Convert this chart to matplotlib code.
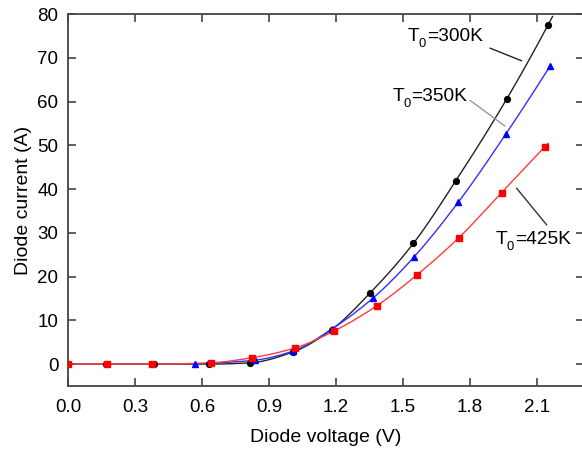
import numpy as np
import matplotlib
matplotlib.use("Agg")
import matplotlib.pyplot as plt
from matplotlib.transforms import offset_copy

plt.rcParams['font.family'] = ['Liberation Sans', 'DejaVu Sans']

# Data
v_300 = [0.0, 0.17, 0.385, 0.633, 0.815, 1.009, 1.181, 1.352, 1.547, 1.737, 1.964, 2.151]
i_300 = [0.0, 0.0, 0.0, 0.0, 0.3, 2.8, 7.9, 16.2, 27.6, 41.9, 60.5, 77.6]

v_350 = [0.569, 0.837, 1.009, 1.181, 1.364, 1.55, 1.748, 1.96, 2.16]
i_350 = [0.0, 0.9, 3.0, 8.0, 15.0, 24.5, 37.0, 52.5, 68.2]

v_425 = [0.0, 0.173, 0.375, 0.639, 0.823, 1.017, 1.193, 1.382, 1.561, 1.751, 1.942, 2.136]
i_425 = [0.0, 0.0, 0.0, 0.3, 1.45, 3.7, 7.6, 13.3, 20.3, 28.9, 39.2, 49.7]

x_ticks = [0.0, 0.3, 0.6, 0.9, 1.2, 1.5, 1.8, 2.1]
y_ticks = [0, 10, 20, 30, 40, 50, 60, 70, 80]


def pchip(x, y, xn):
    x = np.asarray(x, float); y = np.asarray(y, float)
    h = np.diff(x); d = np.diff(y) / h
    m = np.zeros_like(y)
    for k in range(1, len(x) - 1):
        if d[k - 1] * d[k] > 0:
            w1 = 2 * h[k] + h[k - 1]; w2 = h[k] + 2 * h[k - 1]
            m[k] = (w1 + w2) / (w1 / d[k - 1] + w2 / d[k])
    m[0] = d[0]; m[-1] = d[-1] + (d[-1] - d[-2]) * 0.5
    out = np.empty_like(xn)
    for j, xv in enumerate(xn):
        if xv >= x[-1]:
            out[j] = y[-1] + m[-1] * (xv - x[-1]); continue
        k = min(max(np.searchsorted(x, xv) - 1, 0), len(x) - 2)
        t = (xv - x[k]) / h[k]
        h00 = 2 * t**3 - 3 * t**2 + 1; h10 = t**3 - 2 * t**2 + t
        h01 = -2 * t**3 + 3 * t**2; h11 = t**3 - t**2
        out[j] = h00 * y[k] + h10 * h[k] * m[k] + h01 * y[k + 1] + h11 * h[k] * m[k + 1]
    return out


fig = plt.figure(figsize=(5.82, 4.55), dpi=100)
ax = fig.add_axes([68 / 582, 69 / 455, (584 - 68) / 582, (386 - 14) / 455])

curves = [
    (v_300, i_300, '#222222', 'k', 'o', 4.2, 2.17),
    (v_350, i_350, '#3030ff', '#0000ff', '^', 5.0, 2.15),
    (v_425, i_425, '#ff3b3b', '#ff0000', 's', 4.2, 2.15),
]
for vx, iy, lc, mc, mk, ms, xend in curves:
    xs = np.linspace(vx[0], xend, 400)
    ax.plot(xs, pchip(vx, iy, xs), color=lc, lw=1.0, zorder=2)
for vx, iy, lc, mc, mk, ms, xend in curves:
    ax.plot(vx, iy, linestyle='none', marker=mk, ms=ms, color=mc, zorder=3)

ax.set_xlim(0, 2.311)
ax.set_ylim(-5, 80)
ax.set_xticks(x_ticks)
ax.set_xticklabels([f"{t:.1f}" for t in x_ticks])
ax.set_yticks(y_ticks)
ax.tick_params(direction='in', length=6, width=1.2, color='#444444',
               labelsize=13.5, top=True, right=True)
ax.tick_params(axis='x', pad=9)
ax.tick_params(axis='y', pad=7)
for s in ax.spines.values():
    s.set_linewidth(1.3)
    s.set_color('#444444')

ax.set_xlabel('Diode voltage (V)', fontsize=14, labelpad=10)
ax.set_ylabel('Diode current (A)', fontsize=14, labelpad=4)

labels = ['300K', '350K', '425K']
ann = [
    ((1.52, 73.8), (1.89, 72.2), (2.032, 69.3), '#222222'),
    ((1.452, 60.1), (1.80, 60.3), (1.957, 54.4), '#999999'),
    ((1.915, 27.4), (2.144, 31.8), (2.009, 40.2), '#333333'),
]
renderer = fig.canvas.get_renderer()
fs = 13.8
for lab, (tpos, p0, p1, c) in zip(labels, ann):
    t1 = ax.text(tpos[0], tpos[1], 'T', fontsize=fs, ha='left', va='baseline', zorder=4)
    w1 = t1.get_window_extent(renderer).width * 72 / fig.dpi
    tr2 = offset_copy(ax.transData, fig=fig, x=w1 - 0.3, y=-4.5, units='points')
    t2 = ax.text(tpos[0], tpos[1], '0', fontsize=fs * 0.68, ha='left', va='baseline',
                 transform=tr2, zorder=4)
    w2 = t2.get_window_extent(renderer).width * 72 / fig.dpi
    tr3 = offset_copy(ax.transData, fig=fig, x=w1 + w2 + 0.2, y=0, units='points')
    ax.text(tpos[0], tpos[1], '=' + lab, fontsize=fs, ha='left', va='baseline',
            transform=tr3, zorder=4)
    ax.annotate('', xy=p1, xytext=p0,
                arrowprops=dict(arrowstyle='-', color=c, lw=1.0, shrinkA=0, shrinkB=0))

fig.savefig('out.png', dpi=100)
